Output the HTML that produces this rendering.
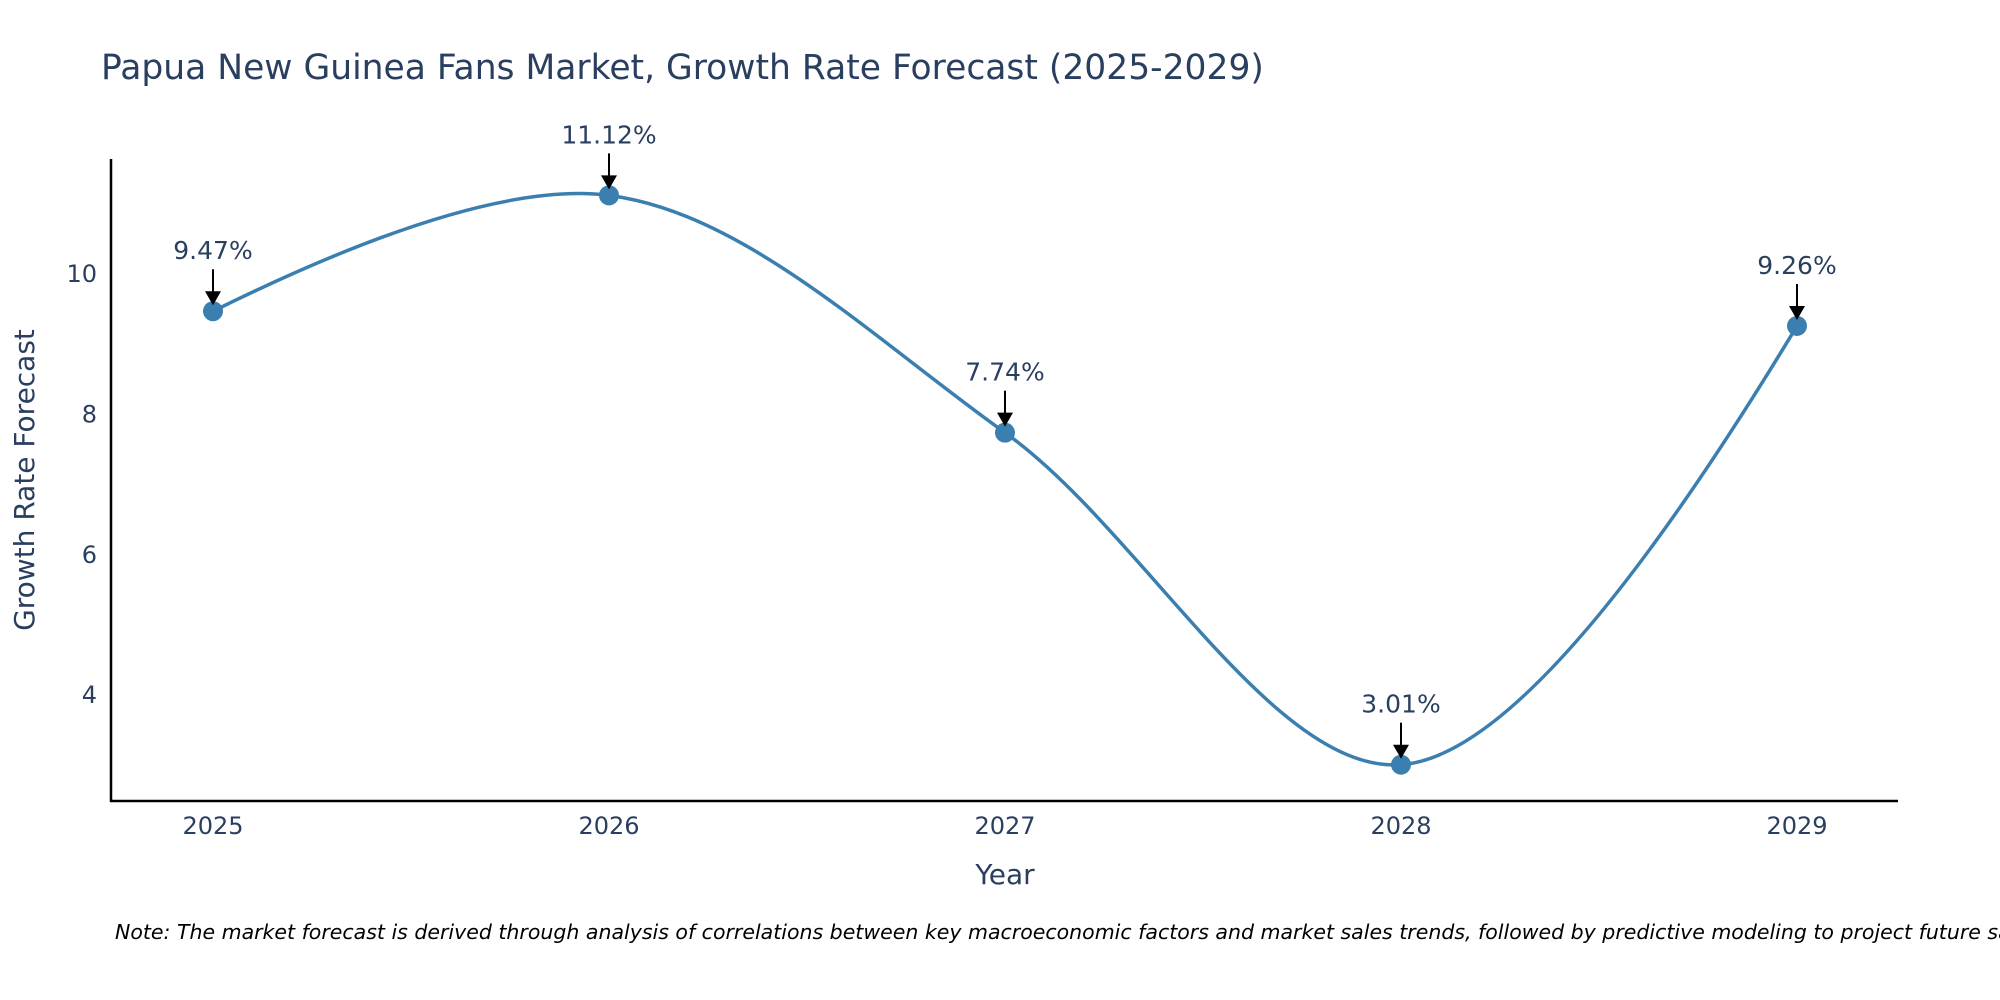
<!DOCTYPE html>
<html><head><meta charset="utf-8">
<style>
body{margin:0;background:#fff;}
svg{display:block;font-family:"DejaVu Sans","Liberation Sans",sans-serif;}
</style></head>
<body>
<svg id="chart" width="2000" height="1000" viewBox="0 0 2000 1000">
<text x="101" y="79" font-size="34.5" fill="#2a3f5f">Papua New Guinea Fans Market, Growth Rate Forecast (2025-2029)</text>
<g id="yticks"></g>
<g id="xticks"></g>
<line x1="111" y1="159" x2="111" y2="802" stroke="#000" stroke-width="2.5"/>
<line x1="110" y1="801" x2="1898" y2="801" stroke="#000" stroke-width="2.5"/>
<text x="34" y="480" font-size="28" fill="#2a3f5f" text-anchor="middle" transform="rotate(-90 34 480)">Growth Rate Forecast</text>
<text x="1005" y="884" font-size="28" fill="#2a3f5f" text-anchor="middle">Year</text>
<g id="series"></g>
<g id="annots"></g>
<text x="115" y="939" font-size="20.5" font-style="italic" fill="#000">Note: The market forecast is derived through analysis of correlations between key macroeconomic factors and market sales trends, followed by predictive modeling to project future sales</text>
</svg>
<script>
const years = ["2025","2026","2027","2028","2029"];
const values = [9.47, 11.12, 7.74, 3.01, 9.26];
const labels = ["9.47%","11.12%","7.74%","3.01%","9.26%"];
const yTicks = [4, 6, 8, 10];

const NS = "http://www.w3.org/2000/svg";
function xs(i){ return 213 + i * 396; }
function ys(v){ return 274 + (10 - v) * 70.2; }
function mk(tag, attrs, parent){
  const e = document.createElementNS(NS, tag);
  for (const k in attrs) e.setAttribute(k, attrs[k]);
  parent.appendChild(e); return e;
}
const yg = document.getElementById('yticks');
yTicks.forEach(t => {
  const e = mk('text', {x: 97, y: ys(t) + 8, 'font-size': 24, fill: '#2a3f5f', 'text-anchor': 'end'}, yg);
  e.textContent = t;
  
  
});
const xg = document.getElementById('xticks');
years.forEach((y, i) => {
  const e = mk('text', {x: xs(i), y: 834, 'font-size': 24, fill: '#2a3f5f', 'text-anchor': 'middle'}, xg);
  e.textContent = y;
  
  
});
const pts = values.map((v, i) => [xs(i), ys(v)]);
function tangent(a, b, c, sm){
  const d1x=a[0]-b[0], d1y=a[1]-b[1], d2x=c[0]-b[0], d2y=c[1]-b[1];
  const d1a=Math.pow(d1x*d1x+d1y*d1y,0.25), d2a=Math.pow(d2x*d2x+d2y*d2y,0.25);
  const nx=(d2a*d2a*d1x-d1a*d1a*d2x)*sm, ny=(d2a*d2a*d1y-d1a*d1a*d2y)*sm;
  const den1=3*d2a*(d1a+d2a), den2=3*d1a*(d1a+d2a);
  return [[b[0]+nx/den1, b[1]+ny/den1],[b[0]-nx/den2, b[1]-ny/den2]];
}
const tg = [];
for (let i = 1; i < pts.length - 1; i++) tg.push(tangent(pts[i-1], pts[i], pts[i+1], 1));
let d = `M${pts[0]} Q${tg[0][0]} ${pts[1]}`;
for (let i = 1; i < pts.length - 2; i++) d += ` C${tg[i-1][1]} ${tg[i][0]} ${pts[i+1]}`;
d += ` Q${tg[tg.length-1][1]} ${pts[pts.length-1]}`;
const sg = document.getElementById('series');
const line = mk('path', {d: d, fill: 'none', stroke: '#3a7fb0', 'stroke-width': 3.5}, sg);


pts.forEach(p => {
  const c = mk('circle', {cx: p[0], cy: p[1], r: 10, fill: '#3a7fb0'}, sg);
  
  
});
const ag = document.getElementById('annots');
pts.forEach((p, i) => {
  const l = mk('line', {x1: p[0], y1: p[1] - 42, x2: p[0], y2: p[1] - 18, stroke: '#000', 'stroke-width': 2}, ag);
  
  
  const h = mk('path', {d: `M${p[0]-8},${p[1]-20} L${p[0]+8},${p[1]-20} L${p[0]},${p[1]-6} Z`, fill: '#000'}, ag);
  
  
  const t = mk('text', {x: p[0], y: p[1] - 52, 'font-size': 25, fill: '#2a3f5f', 'text-anchor': 'middle'}, ag);
  t.textContent = labels[i];
  
  
});
</script>
</body></html>
